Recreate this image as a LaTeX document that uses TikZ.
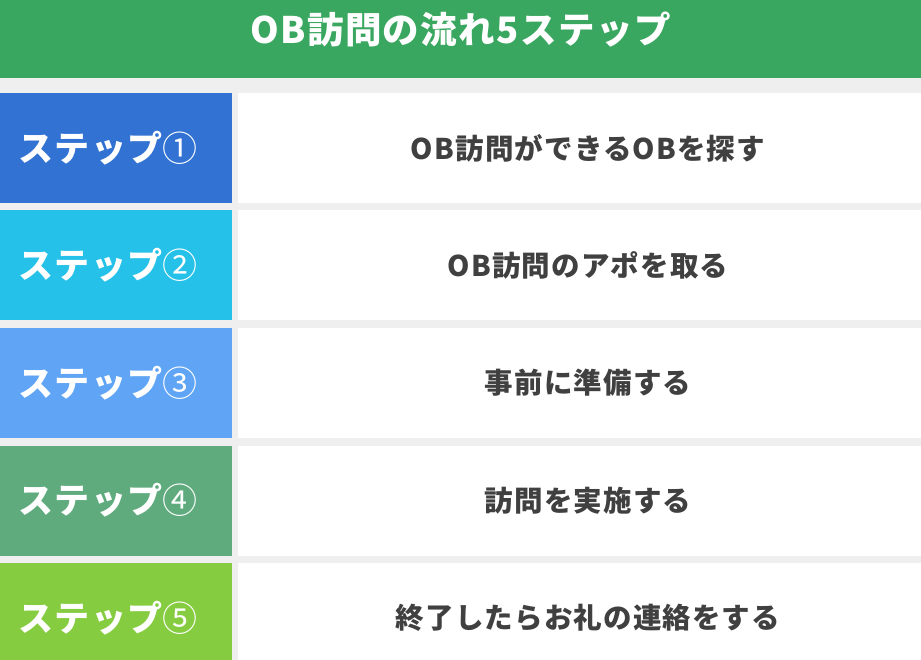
\documentclass[tikz,border=0pt]{standalone}
\usepackage{fontspec}
\setmainfont{Noto Sans CJK JP}[LetterSpace=4]
\newfontfamily\numfont{Noto Sans CJK JP}
\definecolor{bgcol}{HTML}{EFEFEF}
\definecolor{headcol}{HTML}{3AA760}
\definecolor{sone}{HTML}{3172D3}
\definecolor{stwo}{HTML}{25C1E8}
\definecolor{sthree}{HTML}{60A4F5}
\definecolor{sfour}{HTML}{5FAB7E}
\definecolor{sfive}{HTML}{86CC41}
\definecolor{txtcol}{HTML}{404040}
\newcommand{\cnum}[1]{{\numfont\mdseries #1}}
\begin{document}
\begin{tikzpicture}[x=1pt,y=-1pt,
  every node/.style={inner sep=0pt,outer sep=0pt},
  headbox/.style={fill=headcol,minimum width=921pt,minimum height=96pt,text=white,font=\fontsize{36.5}{40}\selectfont\bfseries},
  stepbox/.style={minimum width=232pt,minimum height=110pt,text=white,font=\fontsize{35}{38}\selectfont\bfseries,anchor=north west},
  descbox/.style={fill=white,minimum width=683pt,minimum height=110pt,text=txtcol,font=\fontsize{28.5}{31}\selectfont\bfseries,anchor=north west}]
\useasboundingbox (0,0) rectangle (921,660);
\clip (0,0) rectangle (921,660);
\fill[bgcol] (0,0) rectangle (921,660);
\node[headbox] (head) at (460.5,30) {OB訪問の流れ5ステップ};
\node[stepbox,fill=sone]   (s1) at (0,93)    {\hspace*{-16pt}ステップ\cnum{①}};
\node[stepbox,fill=stwo]   (s2) at (0,210.5) {\hspace*{-16pt}ステップ\cnum{②}};
\node[stepbox,fill=sthree] (s3) at (0,328)   {\hspace*{-16pt}ステップ\cnum{③}};
\node[stepbox,fill=sfour]  (s4) at (0,445.5) {\hspace*{-16pt}ステップ\cnum{④}};
\node[stepbox,fill=sfive]  (s5) at (0,563)   {\hspace*{-16pt}ステップ\cnum{⑤}};
\node[descbox] (d1) at (238,93)    {\hspace*{17pt}OB訪問ができるOBを探す};
\node[descbox] (d2) at (238,210.5) {\hspace*{17pt}OB訪問のアポを取る};
\node[descbox] (d3) at (238,328)   {\hspace*{17pt}事前に準備する};
\node[descbox] (d4) at (238,445.5) {\hspace*{17pt}訪問を実施する};
\node[descbox] (d5) at (238,563)   {\hspace*{17pt}終了したらお礼の連絡をする};
\end{tikzpicture}
\end{document}
